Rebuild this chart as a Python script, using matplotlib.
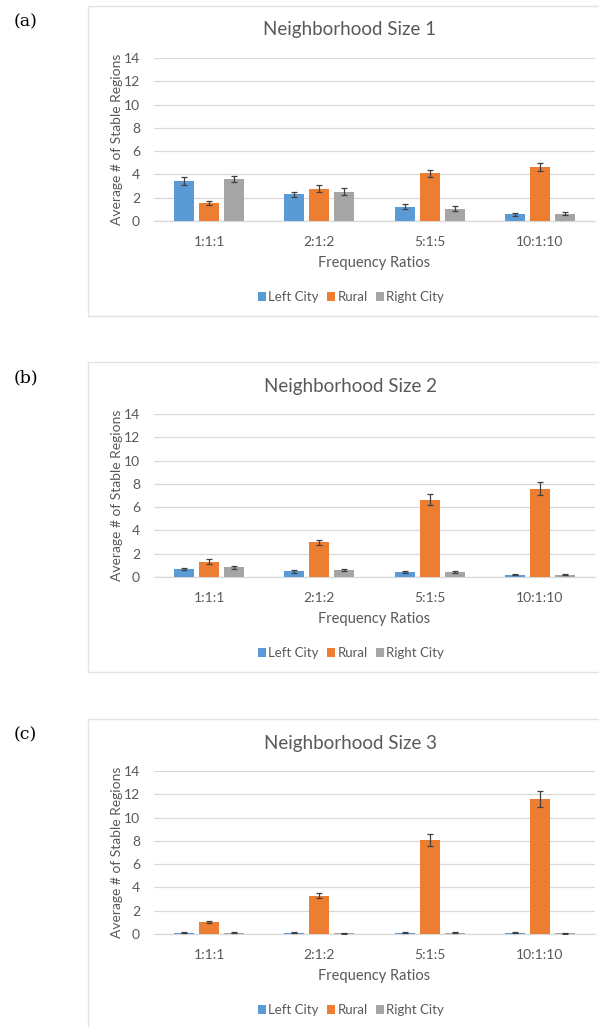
import matplotlib.pyplot as plt
from matplotlib.patches import Rectangle
import numpy as np

# Data
ratios = ['1:1:1', '2:1:2', '5:1:5', '10:1:10']
series_names = ['Left City', 'Rural', 'Right City']
titles = ['Neighborhood Size 1', 'Neighborhood Size 2', 'Neighborhood Size 3']
panel_tags = ['(a)', '(b)', '(c)']

# Neighborhood size 1
n1_left = [3.46, 2.28, 1.22, 0.57]
n1_rural = [1.55, 2.75, 4.08, 4.62]
n1_right = [3.58, 2.53, 1.07, 0.63]
n1_left_err = [0.36, 0.22, 0.22, 0.1]
n1_rural_err = [0.17, 0.3, 0.3, 0.33]
n1_right_err = [0.25, 0.33, 0.2, 0.15]

# Neighborhood size 2
n2_left = [0.66, 0.5, 0.4, 0.2]
n2_rural = [1.32, 2.98, 6.65, 7.58]
n2_right = [0.84, 0.6, 0.4, 0.2]
n2_left_err = [0.1, 0.13, 0.08, 0.06]
n2_rural_err = [0.22, 0.2, 0.44, 0.55]
n2_right_err = [0.13, 0.08, 0.08, 0.06]

# Neighborhood size 3
n3_left = [0.12, 0.1, 0.1, 0.1]
n3_rural = [1.02, 3.3, 8.1, 11.58]
n3_right = [0.1, 0.06, 0.1, 0.06]
n3_left_err = [0.04, 0.04, 0.04, 0.04]
n3_rural_err = [0.1, 0.24, 0.52, 0.66]
n3_right_err = [0.04, 0.03, 0.04, 0.03]

panels = [
    ([n1_left, n1_rural, n1_right], [n1_left_err, n1_rural_err, n1_right_err]),
    ([n2_left, n2_rural, n2_right], [n2_left_err, n2_rural_err, n2_right_err]),
    ([n3_left, n3_rural, n3_right], [n3_left_err, n3_rural_err, n3_right_err]),
]

colors = ['#5B9BD5', '#ED7D31', '#A5A5A5']
text_color = '#595959'
grid_color = '#D9D9D9'

W, H = 599, 1027
plt.rcParams['font.family'] = ['Lato', 'DejaVu Sans']

fig = plt.figure(figsize=(W / 100, H / 100), dpi=100)


def fx(x):
    return x / W


def fy(y):
    return 1 - y / H


frame_tops = [6, 362, 719]
ax_left, ax_right = 154, 595

for k, (values, errors) in enumerate(panels):
    top = frame_tops[k]

    # panel frame (runs off the right edge like the original)
    fig.patches.append(Rectangle((fx(88), fy(top + 310)), fx(530), 310 / H,
                                 transform=fig.transFigure, fill=False,
                                 edgecolor='#E3E3E3', linewidth=1.0))

    fig.text(fx(14), fy(top + 16), panel_tags[k], family='DejaVu Serif',
             fontsize=12.5, ha='left', va='center', color='black')
    fig.text(fx(350), fy(top + 24), titles[k], fontsize=13.5,
             color=text_color, ha='center', va='center')

    ax_top = top + 52
    ax_bottom = ax_top + 163
    ax = fig.add_axes([fx(ax_left), fy(ax_bottom), fx(ax_right - ax_left),
                       (ax_bottom - ax_top) / H])

    x = np.arange(len(ratios))
    offsets = [-0.227, 0, 0.227]
    for s in range(3):
        ax.bar(x + offsets[s], values[s], width=0.18, color=colors[s],
               label=series_names[s], zorder=3,
               yerr=errors[s], capsize=2.5,
               error_kw=dict(ecolor='#404040', elinewidth=0.9, capthick=0.9))

    ax.set_xlim(-0.5, 3.5)
    ax.set_ylim(0, 14)
    ax.set_yticks(range(0, 15, 2))
    ax.set_xticks(x)
    ax.set_xticklabels(ratios)
    ax.grid(axis='y', color=grid_color, linewidth=0.9, zorder=0)
    for side in ['top', 'right', 'left']:
        ax.spines[side].set_visible(False)
    ax.spines['bottom'].set_color(grid_color)
    ax.spines['bottom'].set_linewidth(0.9)
    ax.tick_params(axis='both', length=0, labelsize=10, colors=text_color)
    ax.tick_params(axis='x', pad=11)
    ax.tick_params(axis='y', pad=10)

    ax.set_xlabel('Frequency Ratios', fontsize=10.5, color=text_color)
    ax.xaxis.set_label_coords(0.5, -42 / 163, transform=ax.transAxes)
    ax.xaxis.label.set_va('center')
    ax.set_ylabel('Average # of Stable Regions', fontsize=10, color=text_color)
    ax.yaxis.set_label_coords(-(ax_left - 117) / (ax_right - ax_left), 0.5)
    ax.yaxis.label.set_va('center')

    ax.legend(loc='center', bbox_to_anchor=(fx(351), fy(ax_bottom + 76)),
              bbox_transform=fig.transFigure, ncol=3, frameon=False,
              fontsize=9.5, labelcolor=text_color, handlelength=0.6,
              handleheight=0.7, handletextpad=0.2, columnspacing=0.6)

fig.savefig('out.png', dpi=100)
